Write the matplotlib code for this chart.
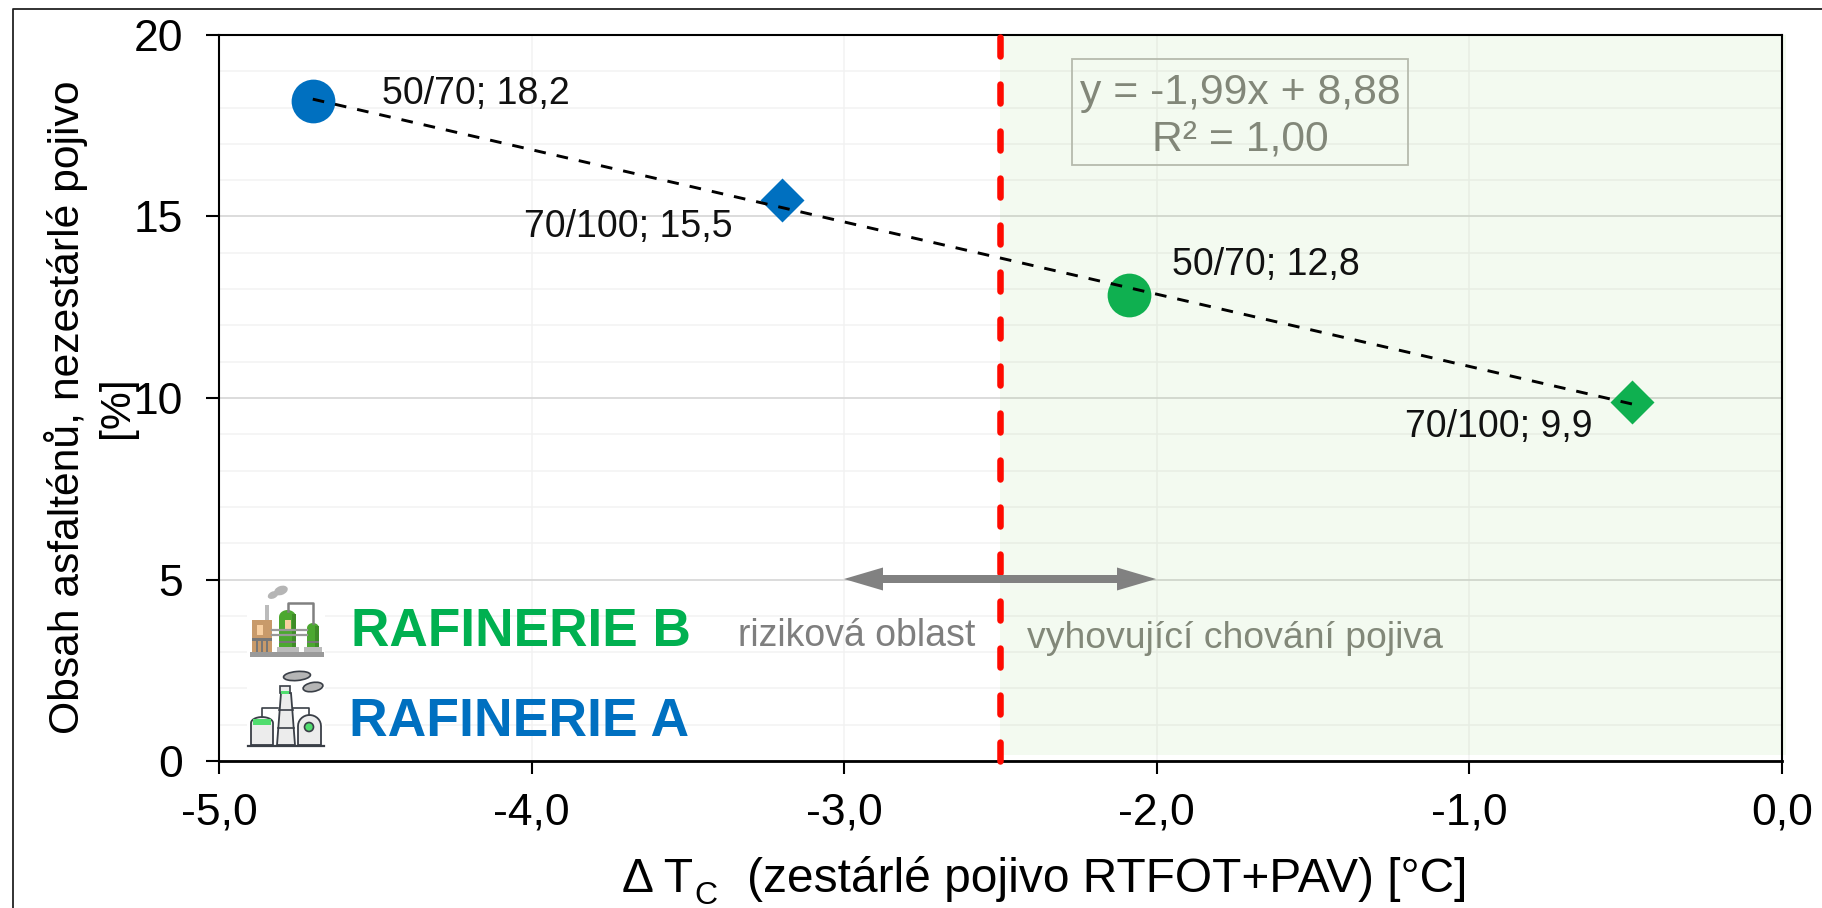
import matplotlib
matplotlib.use('Agg')
import matplotlib.pyplot as plt
import numpy as np
from matplotlib.patches import Rectangle, Polygon, Ellipse, Circle

plt.rcParams['font.family'] = ['Liberation Sans', 'DejaVu Sans']

# data
x_vals = [-4.70, -3.2, -2.09, -0.48]
y_vals = [18.18, 15.45, 12.85, 9.89]
labels = ['50/70; 18,2', '70/100; 15,5', '50/70; 12,8', '70/100; 9,9']
markers = ['o', 'D', 'o', 'D']
sizes = [31.5, 22.4, 31.5, 22.4]
colors = ['#0070C0', '#0070C0', '#0FB050', '#0FB050']
label_off = [(69, 7, 'left'), (-49, -27, 'right'), (43, 30, 'left'), (-39, -25, 'right')]

slope = -1.99
intercept = 8.88
limit_x = -2.5
x_ticks = [-5, -4, -3, -2, -1, 0]
x_ticklabels = ['-5,0', '-4,0', '-3,0', '-2,0', '-1,0', '0,0']
y_ticks = [0, 5, 10, 15, 20]

W, H = 1822, 908
fig = plt.figure(figsize=(W / 100, H / 100), dpi=100)
ax = fig.add_axes([219 / W, 1 - 761 / H, (1782 - 219) / W, (761 - 35) / H])
ax.set_xlim(-5, 0)
ax.set_ylim(0, 20)

# grid
ax.set_yticks(range(0, 21), minor=True)
ax.set_yticks(y_ticks)
ax.set_xticks(x_ticks)
ax.set_xticklabels(x_ticklabels)
ax.grid(True, which='major', axis='y', color='#D9D9D9', lw=1.3, zorder=0)
ax.grid(True, which='minor', axis='y', color='#F2F2F2', lw=1.1, zorder=0)
ax.grid(True, which='major', axis='x', color='#F2F2F2', lw=1.1, zorder=0)
ax.set_axisbelow(True)
ax.tick_params(axis='y', which='minor', length=0)
ax.tick_params(axis='both', which='major', labelsize=32, length=9.4, width=1.5, color='black')
ax.tick_params(axis='x', which='major', pad=13)
ax.tick_params(axis='y', which='major', pad=16.5)
for s in ax.spines.values():
    s.set_linewidth(1.5)
ax.spines['bottom'].set_linewidth(2)

# green area
ax.add_patch(Rectangle((limit_x, 0.16), -limit_x + 0.013, 19.84, fc='#6FC040', ec='none',
                       alpha=0.08, zorder=1, clip_on=False))

# trend line
tx = [x_vals[0], x_vals[-1]]
ty = [slope * v + intercept for v in tx]

for x, y, m, ms, c in zip(x_vals, y_vals, markers, sizes, colors):
    ax.plot([x], [y], m, ms=ms, color=c, mec='none', zorder=4, clip_on=False)
ax.plot(tx, ty, color='black', lw=2.1, dashes=(4.0, 3.8), zorder=5)

for x, y, t, (dx, dy, ha) in zip(x_vals, y_vals, labels, label_off):
    ax.annotate(t, (x, y), xytext=(dx, dy), textcoords='offset pixels', ha=ha, va='center',
                fontsize=27, color='#111111', zorder=6)

# limit line
ax.plot([limit_x, limit_x], [0, 20], color='#FF0A00', lw=4.7, dashes=(2.9, 4.3),
        dash_capstyle='round', zorder=5, clip_on=False)

# overlay in image pixels for texts and icons
ov = fig.add_axes([0, 0, 1, 1], facecolor='none')
ov.set_xlim(0, W)
ov.set_ylim(H, 0)
ov.axis('off')
ov.set_zorder(3)

# outer frame, open on the right
ov.plot([12.5, 12.5, W], [H, 8.5, 8.5], color='#222222', lw=1.3)

# arrow
grey = '#7F7F7F'
ov.add_patch(Polygon([(844, 579), (883, 567.5), (883, 575), (1117, 575), (1117, 567.5), (1156, 579),
                      (1117, 590.5), (1117, 583), (883, 583), (883, 590.5)], fc=grey, ec='none', alpha=0.98))

ov.text(975, 636, 'riziková oblast', ha='right', va='center', fontsize=27, color=grey)
ov.text(1027, 639, 'vyhovující chování pojiva', ha='left', va='center', fontsize=26.9, color='#828879')

# equation box
ov.add_patch(Rectangle((1072, 59), 336, 106, fc='none', ec='#B5BAAD', lw=1.3))
ov.text(1240, 93, 'y = -1,99x + 8,88', ha='center', va='center', fontsize=30.7, color='#828779')
ov.text(1240, 139, 'R² = 1,00', ha='center', va='center', fontsize=30.7, color='#828779')

# axis titles
ov.text(66, 407, 'Obsah asfalténů, nezestárlé pojivo', rotation=90, ha='center', va='center', fontsize=30.7, color='black')
ov.text(117, 407, '[%]', rotation=90, ha='center', va='center', fontsize=30.7, color='black')
ov.text(622, 892, 'Δ T', ha='left', va='baseline', fontsize=34.5, color='black')
ov.text(694, 904, 'C', ha='left', va='baseline', fontsize=23, color='black')
ov.text(747, 892, '(zestárlé pojivo RTFOT+PAV) [°C]', ha='left', va='baseline', fontsize=34.5, color='black')

# refinery names
ov.text(351, 632, 'RAFINERIE B', ha='left', va='center', fontsize=38.3, fontweight='bold', color='#00B050')
ov.text(349, 722, 'RAFINERIE A', ha='left', va='center', fontsize=38.5, fontweight='bold', color='#0070C0')


def dome(x0, x1, top, bottom, rad, fc, ec='none', lw=0):
    # tank shape: flat base, rounded top
    t = np.linspace(np.pi, 0, 16)
    xc = (x0 + x1) / 2
    half = (x1 - x0) / 2
    pts = [(x0, bottom)] + [(xc + half * np.cos(a), top + rad - rad * np.sin(a)) for a in t] + [(x1, bottom)]
    ov.add_patch(Polygon(pts, fc=fc, ec=ec, lw=lw))


# icon B
ov.add_patch(Rectangle((247, 590), 78, 70, fc='white', ec='none'))
ov.add_patch(Rectangle((247, 668), 78, 82, fc='white', ec='none'))
ov.add_patch(Ellipse((273, 595), 11, 7, angle=-25, fc='#B5B5B5', ec='none'))
ov.add_patch(Ellipse((281, 590.5), 14, 9, angle=-20, fc='#B5B5B5', ec='none'))
ov.add_patch(Rectangle((265, 605), 4, 15, fc='#BBBBBB', ec='none'))
ov.plot([288, 288, 313, 313], [611, 603, 603, 623], color='#808080', lw=1.8)
ov.plot([272, 307], [630, 630], color='#999999', lw=1.6)
ov.plot([272, 307], [635, 635], color='#999999', lw=1.6)
ov.add_patch(Rectangle((252, 620), 20, 32, fc='#C89A6A', ec='none'))
ov.add_patch(Rectangle((257, 625), 6, 10, fc='#F8CFA0', ec='none'))
ov.add_patch(Rectangle((252, 638), 20, 2.5, fc='#777777', ec='none'))
for sx in [256, 261, 266]:
    ov.add_patch(Rectangle((sx, 640), 1.5, 12, fc='#777777', ec='none'))
dome(279, 296, 610, 647, 7, '#4CA830')
ov.add_patch(Rectangle((292, 614), 4, 33, fc='#3F8C28', ec='none'))
ov.add_patch(Rectangle((285, 620), 6, 9, fc='#F8CFA0', ec='none'))
dome(307, 319, 623, 647, 5, '#4CA830')
ov.add_patch(Rectangle((315, 626), 4, 21, fc='#3F8C28', ec='none'))
ov.add_patch(Rectangle((279, 641), 17, 2, fc='#777777', ec='none'))
ov.add_patch(Rectangle((307, 641), 12, 2, fc='#777777', ec='none'))
ov.add_patch(Rectangle((277, 647), 22, 5, fc='#BBBBBB', ec='none'))
ov.add_patch(Rectangle((304, 647), 18, 5, fc='#BBBBBB', ec='none'))
ov.add_patch(Rectangle((250, 652), 74, 5, fc='#9A9A9A', ec='none'))

# icon A
dark = '#3A3F47'
ov.add_patch(Ellipse((297, 676), 27, 9, angle=-5, fc='#B5B5B5', ec=dark, lw=1.2))
ov.add_patch(Ellipse((313, 687), 20, 9, angle=-10, fc='#B5B5B5', ec=dark, lw=1.2))
ov.plot([262, 262, 278], [717, 708, 708], color=dark, lw=1.2)
ov.plot([293, 309, 309], [708, 708, 715], color=dark, lw=1.2)
dome(251, 273, 717, 745, 6, '#ECECEC', dark, 1.3)
ov.add_patch(Rectangle((253, 719), 18, 6, fc='#50DD6E', ec='none'))
ov.add_patch(Polygon([(277, 745), (281, 693), (291, 693), (295, 745)], fc='#ECECEC', ec=dark, lw=1.3))
ov.add_patch(Rectangle((280, 686), 10, 7, fc='#ECECEC', ec=dark, lw=1.2))
ov.add_patch(Rectangle((281, 691), 8, 2.5, fc='#50DD6E', ec='none'))
ov.plot([279, 293], [710, 710], color=dark, lw=1.2)
ov.plot([278, 294], [728, 728], color=dark, lw=1.2)
dome(298, 321, 715, 745, 11, '#ECECEC', dark, 1.3)
ov.add_patch(Circle((309, 727), 4.5, fc='#50DD6E', ec=dark, lw=1.2))
ov.plot([248, 324], [746, 746], color=dark, lw=1.6)

fig.savefig('out.png', dpi=100)
